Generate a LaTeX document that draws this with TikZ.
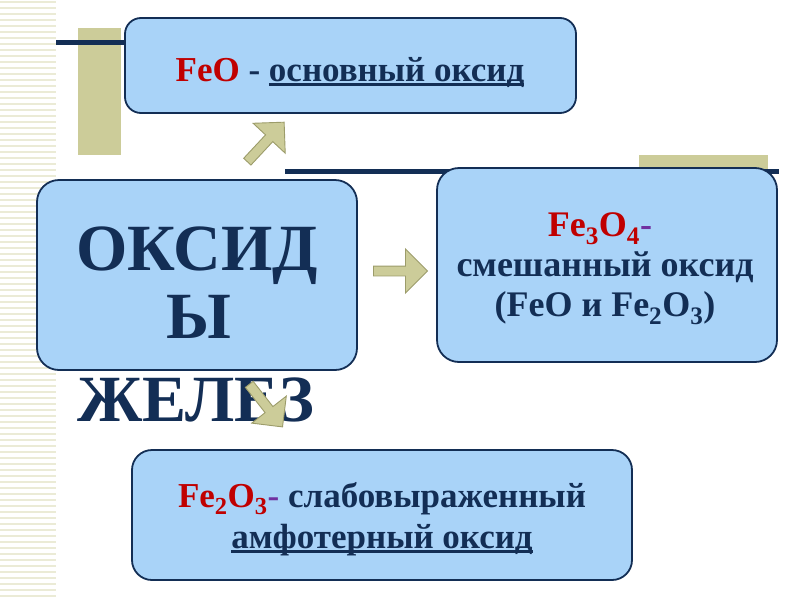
\documentclass[tikz,border=0pt]{standalone}
\usepackage{fontspec}
\setmainfont{Liberation Serif}
\usetikzlibrary{shapes.arrows}
\newcommand\thickul[1]{\setbox0\hbox{#1}\rlap{\rule[-4.5pt]{\wd0}{2.2pt}}\box0}
\definecolor{boxblue}{HTML}{A9D3F8}
\definecolor{navy}{HTML}{132E55}
\definecolor{fered}{HTML}{C00000}
\definecolor{dashviolet}{HTML}{7030A0}
\definecolor{sand}{HTML}{CCCC99}
\definecolor{sanddark}{HTML}{9C9C6A}
\definecolor{stripe}{HTML}{EBEBD6}

\begin{document}
\begin{tikzpicture}[x=1pt,y=-1pt,
  oxbox/.style={draw=navy,line width=1.8pt,fill=boxblue,rounded corners=16pt},
  oxtext/.style={anchor=base,inner sep=0pt,text=navy,font=\bfseries\fontsize{36}{40}\selectfont},
  bigtext/.style={anchor=base,inner sep=0pt,text=navy,font=\bfseries\fontsize{66}{70}\selectfont},
  blockarrow/.style={single arrow,draw=sanddark,fill=sand,line width=0.9pt,anchor=tail,
    minimum height=54pt,inner xsep=0pt,inner ysep=4.5pt,single arrow head extend=17pt}]
\useasboundingbox (0,0) rectangle (800,600);
% striped margin
\foreach \y in {2,8,...,596}
  \draw[stripe,line width=2.5pt] (0,\y) -- (56,\y);
% decoration bars
\fill[sand] (78,28) rectangle (121,155);
\fill[sand] (639,155) rectangle (768,169);
\draw[navy,line width=5pt] (56,42) -- (126,42);
\draw[navy,line width=5pt] (285,171) -- (779,171);
% boxes
\node[oxbox,minimum width=451pt,minimum height=95pt] (basicBox) at (350.5,65.5) {};
\node[oxbox,minimum width=340pt,minimum height=194pt,rounded corners=22pt] (mixedBox) at (607,265) {};
\node[oxbox,minimum width=320pt,minimum height=190pt,rounded corners=22pt] (mainBox) at (197,275) {};
\node[oxbox,minimum width=500pt,minimum height=130pt,rounded corners=20pt] (amphBox) at (382,515) {};
% texts
\node[oxtext,font=\bfseries\fontsize{35}{40}\selectfont] (basicText) at (350,81)
  {{\color{fered}FeO} - \thickul{основный оксид}};
\node[oxtext] (mixedA) at (600,236)
  {{\color{fered}Fe\textsubscript{3}O\textsubscript{4}}{\color{dashviolet}-}};
\node[oxtext] (mixedB) at (605,276) {смешанный оксид};
\node[oxtext] (mixedC) at (605,316) {(FeO и Fe\textsubscript{2}O\textsubscript{3})};
\node[oxtext,font=\bfseries\fontsize{35}{40}\selectfont] (amphA) at (382,507)
  {{\color{fered}Fe\textsubscript{2}O\textsubscript{3}}{\color{dashviolet}-} слабовыраженный};
\node[oxtext,font=\bfseries\fontsize{35}{40}\selectfont] (amphB) at (382,548) {\thickul{амфотерный оксид}};
\node[bigtext] (titleA) at (197,270) {ОКСИД};
\node[bigtext] (titleB) at (199,338) {Ы};
\node[bigtext] (titleC) at (196,421) {ЖЕЛЕЗ};
% arrows
\node[blockarrow,rotate=47] (toBasic) at (247,162) {};
\node[blockarrow] (toMixed) at (373,271) {};
\node[blockarrow,rotate=-52] (toAmph) at (249,384) {};
\end{tikzpicture}
\end{document}
